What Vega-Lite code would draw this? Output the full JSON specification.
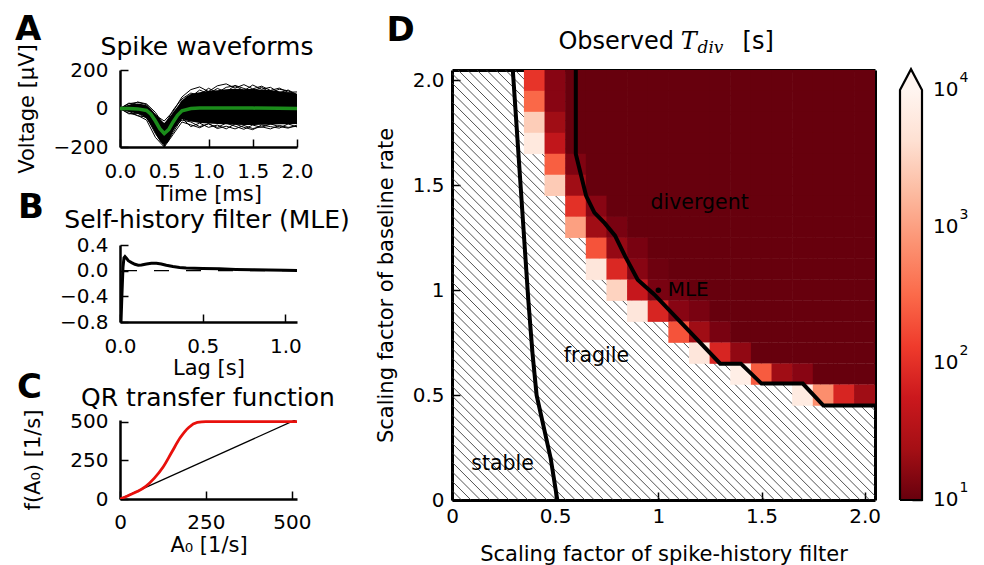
{
"$schema": "https://vega.github.io/schema/vega-lite/v6.json",
"background": "white",
"padding": {"left": 15, "top": 13, "right": 5, "bottom": 5},
"config": {
  "font": "DejaVu Sans",
  "view": {"stroke": null},
  "axis": {"labelFont": "DejaVu Sans", "labelFontSize": 20, "labelColor": "black", "titleFont": "DejaVu Sans", "titleFontSize": 21, "titleFontWeight": "normal", "titleColor": "black", "domainColor": "black", "domainWidth": 2.5, "tickColor": "black", "tickWidth": 1.5, "tickSize": -8, "labelPadding": 20, "grid": false, "labelFlush": false, "labelOverlap": false, "zindex": 1},
  "text": {"font": "DejaVu Sans", "color": "black"}
},
"bounds": "flush",
"spacing": 332,
"hconcat": [
 {"vconcat": [
  {"width": 177, "height": 77,
   "resolve": {"axis": {"x": "independent", "y": "independent"}},
   "layer": [
    {"data": {"values": [{"t":0,"hi":2,"lo":-2},{"t":0.05,"hi":12,"lo":-10},{"t":0.1,"hi":20,"lo":-18},{"t":0.15,"hi":24,"lo":-22},{"t":0.2,"hi":26,"lo":-28},{"t":0.25,"hi":22,"lo":-35},{"t":0.3,"hi":15,"lo":-50},{"t":0.35,"hi":-3,"lo":-85},{"t":0.4,"hi":-28,"lo":-130},{"t":0.45,"hi":-55,"lo":-170},{"t":0.5,"hi":-75,"lo":-190},{"t":0.55,"hi":-50,"lo":-170},{"t":0.6,"hi":-20,"lo":-120},{"t":0.65,"hi":10,"lo":-80},{"t":0.7,"hi":40,"lo":-55},{"t":0.75,"hi":62,"lo":-62},{"t":0.8,"hi":75,"lo":-68},{"t":0.9,"hi":85,"lo":-75},{"t":1.0,"hi":92,"lo":-78},{"t":1.1,"hi":95,"lo":-80},{"t":1.2,"hi":100,"lo":-82},{"t":1.3,"hi":102,"lo":-85},{"t":1.4,"hi":100,"lo":-86},{"t":1.5,"hi":102,"lo":-86},{"t":1.6,"hi":98,"lo":-85},{"t":1.7,"hi":96,"lo":-84},{"t":1.8,"hi":90,"lo":-82},{"t":1.9,"hi":84,"lo":-82},{"t":2.0,"hi":76,"lo":-80}]},
     "mark": {"type": "area", "color": "black", "clip": true},
     "encoding": {
      "x": {"field": "t", "type": "quantitative", "scale": {"domain": [0, 2], "nice": false}, "axis": {"title": "Time [ms]", "values": [0,0.5,1,1.5,2], "format": ".1f", "labelPadding": 22, "titlePadding": 2}},
      "y": {"field": "hi", "type": "quantitative", "scale": {"domain": [-200, 200], "nice": false}, "axis": {"title": "Voltage [μV]", "values": [-200,0,200], "format": "d", "labelPadding": 20, "titlePadding": 16}},
      "y2": {"field": "lo"}
     }},
    {"data": {"values": [
      {"id":1,"t":[0,0.1,0.2,0.3,0.4,0.5,0.6,0.7,0.8,0.9,1.0,1.1,1.2,1.3,1.4,1.5,1.6,1.7,1.8,1.9,2.0],"v":[0,25,32,20,-35,-65,-15,60,98,112,88,118,128,106,124,102,116,94,106,84,86]},
      {"id":2,"t":[0,0.1,0.2,0.3,0.4,0.5,0.6,0.7,0.8,0.9,1.0,1.1,1.2,1.3,1.4,1.5,1.6,1.7,1.8,1.9,2.0],"v":[0,-24,-36,-60,-150,-200,-135,-70,-85,-100,-78,-104,-92,-106,-88,-104,-95,-106,-88,-98,-92]},
      {"id":3,"t":[0,0.1,0.2,0.3,0.4,0.5,0.6,0.7,0.8,0.9,1.0,1.1,1.2,1.3,1.4,1.5,1.6,1.7,1.8,1.9,2.0],"v":[0,14,34,24,-20,-90,-8,50,80,70,105,82,110,118,92,122,100,110,82,96,72]},
      {"id":4,"t":[0,0.1,0.2,0.3,0.4,0.5,0.6,0.7,0.8,0.9,1.0,1.1,1.2,1.3,1.4,1.5,1.6,1.7,1.8,1.9,2.0],"v":[0,-14,-38,-44,-130,-195,-125,-50,-94,-76,-98,-86,-106,-80,-98,-110,-86,-94,-102,-80,-96]},
      {"id":5,"t":[0,0.1,0.2,0.3,0.4,0.5,0.6,0.7,0.8,0.9,1.0,1.1,1.2,1.3,1.4,1.5,1.6,1.7,1.8,1.9,2.0],"v":[0,28,20,14,-55,-105,-45,42,60,96,76,104,86,120,104,90,110,82,100,92,70]},
      {"id":6,"t":[0,0.1,0.2,0.3,0.4,0.5,0.6,0.7,0.8,0.9,1.0,1.1,1.2,1.3,1.4,1.5,1.6,1.7,1.8,1.9,2.0],"v":[0,-28,-24,-50,-115,-175,-105,-60,-70,-94,-80,-98,-76,-92,-108,-86,-98,-80,-94,-102,-86]}
     ]},
     "transform": [{"flatten": ["t", "v"]}],
     "mark": {"type": "line", "color": "black", "strokeWidth": 1, "clip": true},
     "encoding": {
      "x": {"field": "t", "type": "quantitative", "axis": null},
      "y": {"field": "v", "type": "quantitative", "axis": null},
      "detail": {"field": "id"}
     }},
    {"data": {"values": [{"t":[0,0.1,0.2,0.3,0.35,0.4,0.45,0.5,0.55,0.6,0.65,0.7,0.8,0.9,1.0,1.2,1.5,1.8,2.0],"v":[0,0,-2,-10,-30,-65,-105,-130,-110,-70,-35,-12,0,2,3,3,2,1,0]}]},
     "transform": [{"flatten": ["t", "v"]}],
     "mark": {"type": "line", "color": "#1b8c1b", "strokeWidth": 3.5, "clip": true},
     "encoding": {
      "x": {"field": "t", "type": "quantitative", "axis": null},
      "y": {"field": "v", "type": "quantitative", "axis": null}
     }},
    {"data": {"values": [{"x": -1.186, "y": 355.8, "t": "A"}]},
     "mark": {"type": "text", "fontSize": 34, "fontWeight": "bold", "align": "left", "baseline": "alphabetic"},
     "encoding": {"x": {"field": "x", "type": "quantitative", "axis": null}, "y": {"field": "y", "type": "quantitative", "axis": null}, "text": {"field": "t"}}},
    {"data": {"values": [{"x": 0.983, "y": 278, "t": "Spike waveforms"}]},
     "mark": {"type": "text", "fontSize": 25, "align": "center", "baseline": "alphabetic"},
     "encoding": {"x": {"field": "x", "type": "quantitative", "axis": null}, "y": {"field": "y", "type": "quantitative", "axis": null}, "text": {"field": "t"}}}
   ]},
  {"width": 177, "height": 77,
   "resolve": {"axis": {"x": "independent", "y": "independent"}},
   "layer": [
    {"data": {"values": [{"lag":0.0,"f":-1.6},{"lag":0.006,"f":-0.8},{"lag":0.012,"f":-0.35},{"lag":0.018,"f":0.05},{"lag":0.024,"f":0.2},{"lag":0.03,"f":0.22},{"lag":0.04,"f":0.19},{"lag":0.05,"f":0.155},{"lag":0.07,"f":0.125},{"lag":0.09,"f":0.1},{"lag":0.11,"f":0.085},{"lag":0.13,"f":0.09},{"lag":0.16,"f":0.105},{"lag":0.19,"f":0.115},{"lag":0.22,"f":0.115},{"lag":0.25,"f":0.105},{"lag":0.28,"f":0.085},{"lag":0.32,"f":0.065},{"lag":0.36,"f":0.05},{"lag":0.4,"f":0.042},{"lag":0.5,"f":0.035},{"lag":0.6,"f":0.028},{"lag":0.7,"f":0.02},{"lag":0.8,"f":0.014},{"lag":0.9,"f":0.01},{"lag":1.0,"f":0.006},{"lag":1.07,"f":0.004}]},
     "mark": {"type": "line", "color": "black", "strokeWidth": 3, "clip": true},
     "encoding": {
      "x": {"field": "lag", "type": "quantitative", "scale": {"domain": [0, 1.07], "nice": false}, "axis": {"title": "Lag [s]", "values": [0,0.5,1], "format": ".1f", "labelPadding": 22, "titlePadding": 1}},
      "y": {"field": "f", "type": "quantitative", "scale": {"domain": [-0.8, 0.4], "nice": false}, "axis": {"title": null, "values": [-0.8,-0.4,0,0.4], "format": ".1f", "labelPadding": 20}}
     }},
    {"data": {"values": [{}]},
     "mark": {"type": "rule", "color": "black", "strokeWidth": 1.3, "strokeDash": [15, 17]},
     "encoding": {"y": {"datum": 0, "type": "quantitative", "axis": null}}},
    {"data": {"values": [{"x": -0.617, "y": 0.821, "t": "B"}]},
     "mark": {"type": "text", "fontSize": 34, "fontWeight": "bold", "align": "left", "baseline": "alphabetic"},
     "encoding": {"x": {"field": "x", "type": "quantitative", "axis": null}, "y": {"field": "y", "type": "quantitative", "axis": null}, "text": {"field": "t"}}},
    {"data": {"values": [{"x": 0.526, "y": 0.665, "t": "Self-history filter (MLE)"}]},
     "mark": {"type": "text", "fontSize": 25, "align": "center", "baseline": "alphabetic"},
     "encoding": {"x": {"field": "x", "type": "quantitative", "axis": null}, "y": {"field": "y", "type": "quantitative", "axis": null}, "text": {"field": "t"}}}
   ]},
  {"width": 177, "height": 79,
   "resolve": {"axis": {"x": "independent", "y": "independent"}},
   "layer": [
    {"data": {"values": [{"a":0,"r":0},{"a":515,"r":515}]},
     "mark": {"type": "line", "color": "black", "strokeWidth": 1.3, "clip": true},
     "encoding": {
      "x": {"field": "a", "type": "quantitative", "scale": {"domain": [0, 515], "nice": false}, "axis": {"title": "A₀ [1/s]", "values": [0,250,500], "format": "d", "labelPadding": 21, "titlePadding": 2}},
      "y": {"field": "r", "type": "quantitative", "scale": {"domain": [0, 510], "nice": false}, "axis": {"title": "f(A₀) [1/s]", "values": [0,250,500], "format": "d", "labelPadding": 20, "titlePadding": 26}}
     }},
    {"data": {"values": [{"a":0,"r":0},{"a":25,"r":23},{"a":50,"r":48},{"a":75,"r":82},{"a":100,"r":135},{"a":125,"r":205},{"a":150,"r":300},{"a":175,"r":395},{"a":200,"r":462},{"a":225,"r":494},{"a":250,"r":500},{"a":515,"r":500}]},
     "mark": {"type": "line", "color": "#e8100c", "strokeWidth": 2.8, "clip": true, "interpolate": "monotone"},
     "encoding": {
      "x": {"field": "a", "type": "quantitative", "axis": null},
      "y": {"field": "r", "type": "quantitative", "axis": null}
     }},
    {"data": {"values": [{"x": -299.7, "y": 652, "t": "C"}]},
     "mark": {"type": "text", "fontSize": 34, "fontWeight": "bold", "align": "left", "baseline": "alphabetic"},
     "encoding": {"x": {"field": "x", "type": "quantitative", "axis": null}, "y": {"field": "y", "type": "quantitative", "axis": null}, "text": {"field": "t"}}},
    {"data": {"values": [{"x": 256, "y": 600, "t": "QR transfer function"}]},
     "mark": {"type": "text", "fontSize": 25, "align": "center", "baseline": "alphabetic"},
     "encoding": {"x": {"field": "x", "type": "quantitative", "axis": null}, "y": {"field": "y", "type": "quantitative", "axis": null}, "text": {"field": "t"}}}
   ]}
 ], "spacing": 98, "bounds": "flush"},
 {"hconcat": [
  {"width": 423, "height": 430,
   "resolve": {"axis": {"x": "independent", "y": "independent"}},
   "layer": [
    {"data": {"values": [{"a":0.046,"b":-2.092},{"a":0.092,"b":-2.046},{"a":0.138,"b":-2.0},{"a":0.184,"b":-1.954},{"a":0.23,"b":-1.908},{"a":0.276,"b":-1.862},{"a":0.322,"b":-1.816},{"a":0.368,"b":-1.77},{"a":0.414,"b":-1.724},{"a":0.46,"b":-1.678},{"a":0.506,"b":-1.632},{"a":0.552,"b":-1.586},{"a":0.598,"b":-1.54},{"a":0.644,"b":-1.494},{"a":0.69,"b":-1.448},{"a":0.736,"b":-1.402},{"a":0.782,"b":-1.356},{"a":0.828,"b":-1.31},{"a":0.874,"b":-1.264},{"a":0.92,"b":-1.218},{"a":0.966,"b":-1.172},{"a":1.012,"b":-1.126},{"a":1.058,"b":-1.08},{"a":1.104,"b":-1.034},{"a":1.15,"b":-0.988},{"a":1.196,"b":-0.942},{"a":1.242,"b":-0.896},{"a":1.288,"b":-0.85},{"a":1.334,"b":-0.804},{"a":1.38,"b":-0.758},{"a":1.426,"b":-0.712},{"a":1.472,"b":-0.666},{"a":1.518,"b":-0.62},{"a":1.564,"b":-0.574},{"a":1.61,"b":-0.528},{"a":1.656,"b":-0.482},{"a":1.702,"b":-0.436},{"a":1.748,"b":-0.39},{"a":1.794,"b":-0.344},{"a":1.84,"b":-0.298},{"a":1.886,"b":-0.252},{"a":1.932,"b":-0.206},{"a":1.978,"b":-0.16},{"a":2.024,"b":-0.114},{"a":2.07,"b":-0.068},{"a":2.116,"b":-0.022},{"a":2.162,"b":0.024},{"a":2.208,"b":0.07},{"a":2.254,"b":0.116},{"a":2.3,"b":0.162},{"a":2.346,"b":0.208},{"a":2.392,"b":0.254},{"a":2.438,"b":0.3},{"a":2.484,"b":0.346},{"a":2.53,"b":0.392},{"a":2.576,"b":0.438},{"a":2.622,"b":0.484},{"a":2.668,"b":0.53},{"a":2.714,"b":0.576},{"a":2.76,"b":0.622},{"a":2.806,"b":0.668},{"a":2.852,"b":0.714},{"a":2.898,"b":0.76},{"a":2.944,"b":0.806},{"a":2.99,"b":0.852},{"a":3.036,"b":0.898},{"a":3.082,"b":0.944},{"a":3.128,"b":0.99},{"a":3.174,"b":1.036},{"a":3.22,"b":1.082},{"a":3.266,"b":1.128},{"a":3.312,"b":1.174},{"a":3.358,"b":1.22},{"a":3.404,"b":1.266},{"a":3.45,"b":1.312},{"a":3.496,"b":1.358},{"a":3.542,"b":1.404},{"a":3.588,"b":1.45},{"a":3.634,"b":1.496},{"a":3.68,"b":1.542},{"a":3.726,"b":1.588},{"a":3.772,"b":1.634},{"a":3.818,"b":1.68},{"a":3.864,"b":1.726},{"a":3.91,"b":1.772},{"a":3.956,"b":1.818},{"a":4.002,"b":1.864},{"a":4.048,"b":1.91},{"a":4.094,"b":1.956},{"a":4.14,"b":2.002},{"a":4.186,"b":2.048},{"a":4.232,"b":2.094}]},
     "mark": {"type": "rule", "color": "#333333", "strokeWidth": 0.85, "clip": true},
     "encoding": {
      "x": {"field": "a", "type": "quantitative", "scale": {"domain": [0, 2.05], "nice": false}, "axis": {"title": "Scaling factor of spike-history filter", "values": [0,0.5,1,1.5,2], "format": "~g", "labelExpr": "datum.value == 2 ? '2.0' : datum.label", "labelPadding": 14, "titlePadding": 17, "domainWidth": 3}},
      "x2": {"field": "b"},
      "y": {"datum": 0, "type": "quantitative", "scale": {"domain": [0, 2.05], "nice": false}, "axis": {"title": "Scaling factor of baseline rate", "values": [0,0.5,1,1.5,2], "format": "~g", "labelExpr": "datum.value == 2 ? '2.0' : datum.label", "labelPadding": 16, "titlePadding": 16, "domainWidth": 3}},
      "y2": {"datum": 2.1}
     }},
    {"data": {"values": [
      {"y":2.0,"x":[0.4,0.5,0.6,0.7,0.8,0.9,1.0,1.1,1.2,1.3,1.4,1.5,1.6,1.7,1.8,1.9,2.0],"v":[110,16,10,10,10,10,10,10,10,10,10,10,10,10,10,10,10]},
      {"y":1.9,"x":[0.4,0.5,0.6,0.7,0.8,0.9,1.0,1.1,1.2,1.3,1.4,1.5,1.6,1.7,1.8,1.9,2.0],"v":[300,16,10,10,10,10,10,10,10,10,10,10,10,10,10,10,10]},
      {"y":1.8,"x":[0.4,0.5,0.6,0.7,0.8,0.9,1.0,1.1,1.2,1.3,1.4,1.5,1.6,1.7,1.8,1.9,2.0],"v":[2700,22,10,10,10,10,10,10,10,10,10,10,10,10,10,10,10]},
      {"y":1.7,"x":[0.4,0.5,0.6,0.7,0.8,0.9,1.0,1.1,1.2,1.3,1.4,1.5,1.6,1.7,1.8,1.9,2.0],"v":[6000,45,10,10,10,10,10,10,10,10,10,10,10,10,10,10,10]},
      {"y":1.6,"x":[0.5,0.6,0.7,0.8,0.9,1.0,1.1,1.2,1.3,1.4,1.5,1.6,1.7,1.8,1.9,2.0],"v":[250,14,10,10,10,10,10,10,10,10,10,10,10,10,10,10]},
      {"y":1.5,"x":[0.5,0.6,0.7,0.8,0.9,1.0,1.1,1.2,1.3,1.4,1.5,1.6,1.7,1.8,1.9,2.0],"v":[2600,22,10,10,10,10,10,10,10,10,10,10,10,10,10,10]},
      {"y":1.4,"x":[0.6,0.7,0.8,0.9,1.0,1.1,1.2,1.3,1.4,1.5,1.6,1.7,1.8,1.9,2.0],"v":[100,16,10,10,10,10,10,10,10,10,10,10,10,10,10]},
      {"y":1.3,"x":[0.6,0.7,0.8,0.9,1.0,1.1,1.2,1.3,1.4,1.5,1.6,1.7,1.8,1.9,2.0],"v":[1000,22,13,10,10,10,10,10,10,10,10,10,10,10,10]},
      {"y":1.2,"x":[0.7,0.8,0.9,1.0,1.1,1.2,1.3,1.4,1.5,1.6,1.7,1.8,1.9,2.0],"v":[200,19,13,10,10,10,10,10,10,10,10,10,10,10]},
      {"y":1.1,"x":[0.7,0.8,0.9,1.0,1.1,1.2,1.3,1.4,1.5,1.6,1.7,1.8,1.9,2.0],"v":[5500,80,16,11,10,10,10,10,10,10,10,10,10,10]},
      {"y":1.0,"x":[0.8,0.9,1.0,1.1,1.2,1.3,1.4,1.5,1.6,1.7,1.8,1.9,2.0],"v":[3100,50,13,12,10,10,10,10,10,10,10,10,10]},
      {"y":0.9,"x":[0.9,1.0,1.1,1.2,1.3,1.4,1.5,1.6,1.7,1.8,1.9,2.0],"v":[5500,75,16,13,10,10,10,10,10,10,10,10]},
      {"y":0.8,"x":[1.1,1.2,1.3,1.4,1.5,1.6,1.7,1.8,1.9,2.0],"v":[200,22,13,10,10,10,10,10,10,10]},
      {"y":0.7,"x":[1.2,1.3,1.4,1.5,1.6,1.7,1.8,1.9,2.0],"v":[5500,75,18,10,10,10,10,10,10]},
      {"y":0.6,"x":[1.4,1.5,1.6,1.7,1.8,1.9,2.0],"v":[7500,230,22,16,10,10,10]},
      {"y":0.5,"x":[1.7,1.8,1.9,2.0],"v":[6500,680,75,22]}
     ]},
     "transform": [{"flatten": ["x", "v"]}],
     "mark": {"type": "point", "shape": "square", "filled": true, "size": 452, "opacity": 1, "strokeWidth": 0, "clip": true},
     "encoding": {
      "x": {"field": "x", "type": "quantitative", "axis": null},
      "y": {"field": "y", "type": "quantitative", "axis": null},
      "color": {"field": "v", "type": "quantitative", "scale": {"type": "log", "domain": [10, 23.71, 56.23, 133.4, 316.2, 749.9, 1778, 4217, 10000], "range": ["#67000d", "#a50f15", "#cb181d", "#ef3b2c", "#fb6a4a", "#fc9272", "#fcbba1", "#fee0d2", "#fff5f0"], "clamp": true, "nice": false}, "legend": null}
     }},
    {"data": {"values": [
      {"id":"div","o":0,"x":0.6,"y":2.06},{"id":"div","o":1,"x":0.6,"y":1.65},{"id":"div","o":2,"x":0.65,"y":1.45},{"id":"div","o":3,"x":0.69,"y":1.37},{"id":"div","o":4,"x":0.74,"y":1.32},{"id":"div","o":5,"x":0.79,"y":1.26},{"id":"div","o":6,"x":0.84,"y":1.16},{"id":"div","o":7,"x":0.9,"y":1.05},{"id":"div","o":8,"x":0.98,"y":0.98},{"id":"div","o":9,"x":1.3,"y":0.65},{"id":"div","o":10,"x":1.4,"y":0.65},{"id":"div","o":11,"x":1.5,"y":0.555},{"id":"div","o":12,"x":1.7,"y":0.555},{"id":"div","o":13,"x":1.8,"y":0.45},{"id":"div","o":14,"x":2.06,"y":0.45},
      {"id":"st","o":0,"x":0.294,"y":2.06},{"id":"st","o":1,"x":0.37,"y":0.95},{"id":"st","o":2,"x":0.39,"y":0.7},{"id":"st","o":3,"x":0.41,"y":0.5},{"id":"st","o":4,"x":0.444,"y":0.35},{"id":"st","o":5,"x":0.478,"y":0.2},{"id":"st","o":6,"x":0.512,"y":-0.01}
     ]},
     "mark": {"type": "line", "color": "black", "strokeWidth": 4, "clip": true},
     "encoding": {
      "x": {"field": "x", "type": "quantitative", "axis": null},
      "y": {"field": "y", "type": "quantitative", "axis": null},
      "detail": {"field": "id"},
      "order": {"field": "o"}
     }},
    {"data": {"values": [{"x": 1, "y": 1}]},
     "mark": {"type": "point", "filled": true, "color": "black", "size": 30, "opacity": 1},
     "encoding": {
      "x": {"field": "x", "type": "quantitative", "axis": {"orient": "top", "labels": false, "title": null, "values": [0.5,1,1.5,2], "domainWidth": 3}},
      "y": {"field": "y", "type": "quantitative", "axis": {"orient": "right", "labels": false, "title": null, "values": [0.5,1,1.5,2], "domainWidth": 3}}
     }},
    {"data": {"values": [{"x": 1.2, "y": 1.414, "t": "divergent"}, {"x": 0.7, "y": 0.686, "t": "fragile"}, {"x": 0.245, "y": 0.171, "t": "stable"}]},
     "mark": {"type": "text", "fontSize": 20.5, "align": "center", "baseline": "middle"},
     "encoding": {"x": {"field": "x", "type": "quantitative", "axis": null}, "y": {"field": "y", "type": "quantitative", "axis": null}, "text": {"field": "t"}}},
    {"data": {"values": [{"x": 1.045, "y": 1.0, "t": "MLE"}]},
     "mark": {"type": "text", "fontSize": 20, "align": "left", "baseline": "middle"},
     "encoding": {"x": {"field": "x", "type": "quantitative", "axis": null}, "y": {"field": "y", "type": "quantitative", "axis": null}, "text": {"field": "t"}}},
    {"data": {"values": [{"x": 0.516, "y": 2.152, "t": "Observed"}, {"x": 1.408, "y": 2.152, "t": "[s]"}]},
     "mark": {"type": "text", "fontSize": 24, "align": "left", "baseline": "alphabetic"},
     "encoding": {"x": {"field": "x", "type": "quantitative", "axis": null}, "y": {"field": "y", "type": "quantitative", "axis": null}, "text": {"field": "t"}}},
    {"data": {"values": [{"x": 1.108, "y": 2.152, "t": "T"}]},
     "mark": {"type": "text", "font": "DejaVu Serif", "fontStyle": "italic", "fontSize": 24, "align": "left", "baseline": "alphabetic"},
     "encoding": {"x": {"field": "x", "type": "quantitative", "axis": null}, "y": {"field": "y", "type": "quantitative", "axis": null}, "text": {"field": "t"}}},
    {"data": {"values": [{"x": 1.19, "y": 2.129, "t": "div"}]},
     "mark": {"type": "text", "font": "DejaVu Serif", "fontStyle": "italic", "fontSize": 17, "align": "left", "baseline": "alphabetic"},
     "encoding": {"x": {"field": "x", "type": "quantitative", "axis": null}, "y": {"field": "y", "type": "quantitative", "axis": null}, "text": {"field": "t"}}},
    {"data": {"values": [{"x": -0.318, "y": 2.186, "t": "D"}]},
     "mark": {"type": "text", "fontSize": 34, "fontWeight": "bold", "align": "left", "baseline": "alphabetic"},
     "encoding": {"x": {"field": "x", "type": "quantitative", "axis": null}, "y": {"field": "y", "type": "quantitative", "axis": null}, "text": {"field": "t"}}}
   ]},
  {"width": 22, "height": 430,
   "resolve": {"axis": {"x": "independent", "y": "independent"}},
   "layer": [
    {"data": {"values": [{"lo": 10, "hi": 10000}]},
     "mark": {"type": "rect", "fill": {"gradient": "linear", "x1": 0, "y1": 0, "x2": 0, "y2": 1, "stops": [{"offset": 0, "color": "#fff5f0"}, {"offset": 0.125, "color": "#fee0d2"}, {"offset": 0.25, "color": "#fcbba1"}, {"offset": 0.375, "color": "#fc9272"}, {"offset": 0.5, "color": "#fb6a4a"}, {"offset": 0.625, "color": "#ef3b2c"}, {"offset": 0.75, "color": "#cb181d"}, {"offset": 0.875, "color": "#a50f15"}, {"offset": 1, "color": "#67000d"}]}},
     "encoding": {
      "x": {"datum": 0, "type": "quantitative", "scale": {"domain": [0, 1], "nice": false}, "axis": null},
      "x2": {"datum": 1},
      "y": {"field": "lo", "type": "quantitative", "scale": {"type": "log", "domain": [10, 14000], "nice": false}, "axis": {"orient": "right", "title": null, "values": [10, 100, 1000, 10000], "labels": false, "domain": false, "tickSize": -10}},
      "y2": {"field": "hi"}
     }},
    {"data": {"values": [{"cx": 0, "cy": 10000}, {"cx": 0.5, "cy": 14200}, {"cx": 1, "cy": 10000}]},
     "mark": {"type": "area", "fill": "#fff5f0", "clip": false},
     "encoding": {
      "x": {"field": "cx", "type": "quantitative", "axis": null},
      "y": {"field": "cy", "type": "quantitative", "axis": null},
      "y2": {"datum": 10000}
     }},
    {"data": {"values": [{"o": 0, "cx": 0, "cy": 10}, {"o": 1, "cx": 0, "cy": 10000}, {"o": 2, "cx": 0.5, "cy": 14200}, {"o": 3, "cx": 1, "cy": 10000}, {"o": 4, "cx": 1, "cy": 10}, {"o": 5, "cx": 0, "cy": 10}]},
     "mark": {"type": "line", "color": "black", "strokeWidth": 2.2, "clip": false},
     "encoding": {
      "x": {"field": "cx", "type": "quantitative", "axis": null},
      "y": {"field": "cy", "type": "quantitative", "axis": null},
      "order": {"field": "o"}
     }},
    {"data": {"values": [{"x": 1.5, "y": 10, "t": "10"}, {"x": 1.5, "y": 100, "t": "10"}, {"x": 1.5, "y": 1000, "t": "10"}, {"x": 1.5, "y": 10000, "t": "10"}]},
     "mark": {"type": "text", "fontSize": 20, "align": "left", "baseline": "middle"},
     "encoding": {"x": {"field": "x", "type": "quantitative", "axis": null}, "y": {"field": "y", "type": "quantitative", "axis": null}, "text": {"field": "t"}}},
    {"data": {"values": [{"x": 2.7, "y": 12.23, "t": "1"}, {"x": 2.7, "y": 122.3, "t": "2"}, {"x": 2.7, "y": 1223, "t": "3"}, {"x": 2.7, "y": 12230, "t": "4"}]},
     "mark": {"type": "text", "fontSize": 14, "align": "left", "baseline": "middle"},
     "encoding": {"x": {"field": "x", "type": "quantitative", "axis": null}, "y": {"field": "y", "type": "quantitative", "axis": null}, "text": {"field": "t"}}}
   ]}
 ], "spacing": 25, "bounds": "flush"}
]
}
